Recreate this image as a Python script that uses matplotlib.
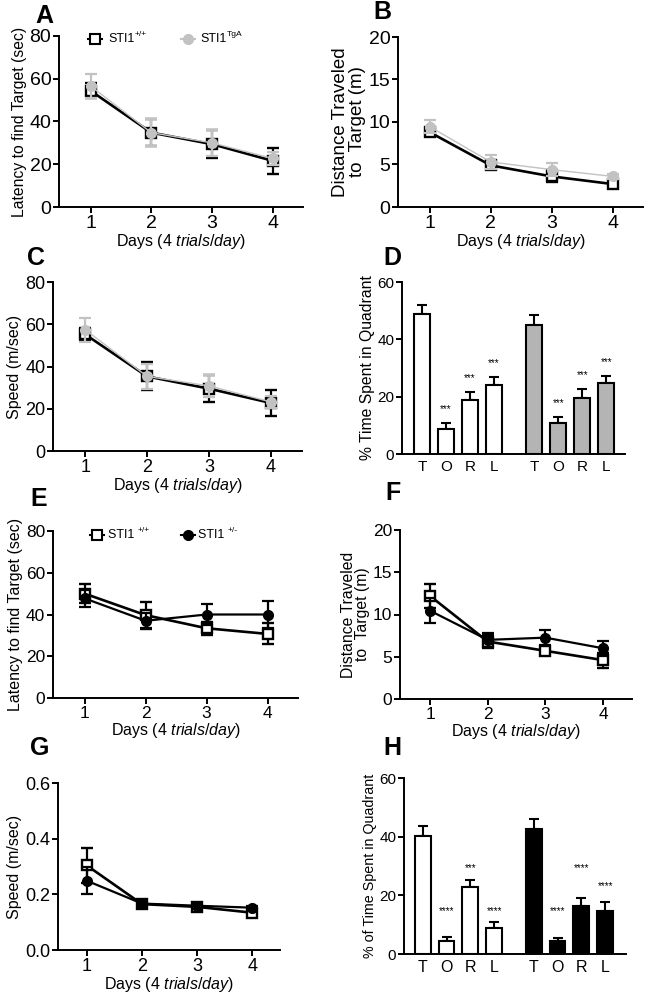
import matplotlib
matplotlib.use('Agg')
import matplotlib.pyplot as plt
from matplotlib.lines import Line2D

plt.rcParams['font.family'] = ['Liberation Sans', 'DejaVu Sans']
plt.rcParams['mathtext.fontset'] = 'custom'
plt.rcParams['mathtext.rm'] = 'Liberation Sans'
plt.rcParams['mathtext.it'] = 'Liberation Sans:italic'
plt.rcParams['mathtext.bf'] = 'Liberation Sans:bold'

# ---------------- data ----------------
days = [1, 2, 3, 4]
quadrants = ["T", "O", "R", "L"]

# A: latency (sec)  STI1+/+ vs STI1TgA
a_wt_mean = [54.4, 34.8, 29.4, 21.6]
a_wt_sem = [3.4, 6.2, 6.4, 6.0]
a_tg_mean = [56.6, 34.8, 30.0, 22.7]
a_tg_sem = [5.4, 6.2, 6.0, 3.1]

# B: distance (m)
b_wt_mean = [8.8, 4.9, 3.6, 2.7]
b_wt_sem = [0.5, 0.45, 0.7, 0.3]
b_tg_mean = [9.45, 5.3, 4.4, 3.6]
b_tg_sem = [0.75, 0.8, 0.8, 0.25]

# C: speed
c_wt_mean = [55.2, 35.3, 29.5, 22.7]
c_wt_sem = [3.2, 6.6, 6.3, 6.0]
c_tg_mean = [57.4, 35.3, 30.8, 23.2]
c_tg_sem = [5.6, 6.0, 5.3, 3.0]

# D: % time in quadrant
d_wt_mean = [48.8, 8.8, 18.7, 24.0]
d_wt_sem = [3.3, 2.0, 2.9, 2.7]
d_tg_mean = [45.1, 10.9, 19.5, 24.8]
d_tg_sem = [3.5, 2.0, 3.2, 2.3]
d_wt_stars = ["", "***", "***", "***"]
d_tg_stars = ["", "***", "***", "***"]

# E: latency  STI1+/+ vs STI1+/-
e_wt_mean = [50.0, 39.7, 33.4, 30.7]
e_wt_sem = [4.5, 6.5, 3.2, 5.0]
e_het_mean = [47.7, 37.0, 40.0, 40.0]
e_het_sem = [4.0, 3.6, 4.8, 6.4]

# F: distance
f_wt_mean = [12.2, 6.8, 5.7, 4.6]
f_wt_sem = [1.4, 0.8, 0.5, 0.9]
f_het_mean = [10.45, 7.0, 7.26, 6.0]
f_het_sem = [1.5, 0.85, 0.9, 0.86]

# G: speed (m/sec)
g_wt_mean = [0.304, 0.165, 0.155, 0.134]
g_wt_sem = [0.064, 0.010, 0.008, 0.010]
g_het_mean = [0.249, 0.167, 0.159, 0.152]
g_het_sem = [0.048, 0.008, 0.006, 0.006]

# H: % of time in quadrant
h_wt_mean = [40.3, 4.4, 22.8, 8.8]
h_wt_sem = [3.2, 1.5, 2.3, 2.0]
h_het_mean = [42.7, 4.4, 16.4, 14.8]
h_het_sem = [3.4, 1.2, 2.6, 2.9]
h_wt_stars = ["", "****", "***", "****"]
h_het_stars = ["", "****", "****", "****"]

# ---------------- figure ----------------
W, H = 648, 996
fig = plt.figure(figsize=(W / 100, H / 100), dpi=100)
GRAY = '#c2c2c2'
BARGRAY = '#b4b4b4'


def px_axes(l, t, r, b):
    return fig.add_axes([l / W, 1 - b / H, (r - l) / W, (b - t) / H])


def style(ax, ylim, yticks, ylabel, tick_fs, label_fs, yfmt=None):
    for s in ['top', 'right']:
        ax.spines[s].set_visible(False)
    for s in ['left', 'bottom']:
        ax.spines[s].set_linewidth(1.4)
    ax.set_ylim(*ylim)
    ax.set_yticks(yticks)
    if yfmt:
        ax.set_yticklabels([yfmt.format(v) for v in yticks])
    ax.tick_params(axis='both', length=4, width=1.4, labelsize=tick_fs, pad=1.5)
    ax.set_ylabel(ylabel, fontsize=label_fs, labelpad=2)


def line_panel(ax, wt_m, wt_s, mu_m, mu_s, mu_color, mu_lw, xlab_fs):
    ax.errorbar(days, wt_m, yerr=wt_s, color='black', lw=1.9, marker='s', ms=7.5,
                mfc='white', mec='black', mew=1.7, capsize=4.5, capthick=1.6,
                elinewidth=1.6, zorder=3, clip_on=False)
    ax.errorbar(days, mu_m, yerr=mu_s, color=mu_color, lw=mu_lw, marker='o', ms=7,
                mfc=mu_color, mec=mu_color, capsize=4.5, capthick=1.6,
                elinewidth=1.6, zorder=4, clip_on=False)
    ax.set_xlim(0.48, 4.5)
    ax.set_xticks(days)
    ax.set_xlabel(r'Days (4 $\mathit{trials/day}$)', fontsize=xlab_fs, labelpad=0.5)


def bar_panel(ax, m1, s1, m2, s2, c2):
    x1 = [0, 1, 2, 3]
    x2 = [4.67, 5.67, 6.67, 7.67]
    ax.bar(x1, m1, width=0.66, color='white', edgecolor='black', linewidth=1.5, zorder=2)
    ax.bar(x2, m2, width=0.66, color=c2, edgecolor='black', linewidth=1.5, zorder=2)
    ax.errorbar(x1, m1, yerr=[[0] * 4, s1], fmt='none', ecolor='black', elinewidth=1.5,
                capsize=3.5, capthick=1.5, zorder=1)
    ax.errorbar(x2, m2, yerr=[[0] * 4, s2], fmt='none', ecolor='black', elinewidth=1.5,
                capsize=3.5, capthick=1.5, zorder=1)
    return x1, x2


# ---- A ----
axA = px_axes(59, 36, 303, 207)
line_panel(axA, a_wt_mean, a_wt_sem, a_tg_mean, a_tg_sem, GRAY, 1.0, 11.5)
style(axA, (0, 80), [0, 20, 40, 60, 80], 'Latency to find Target (sec)', 14, 11.3)

# ---- B ----
axB = px_axes(398, 37, 643, 207)
line_panel(axB, b_wt_mean, b_wt_sem, b_tg_mean, b_tg_sem, GRAY, 1.0, 11.5)
style(axB, (0, 20), [0, 5, 10, 15, 20], 'Distance Traveled\nto  Target (m)', 14, 13.5)
axB.yaxis.label.set_linespacing(0.95)

# ---- C ----
axC = px_axes(53, 282, 302, 451)
line_panel(axC, c_wt_mean, c_wt_sem, c_tg_mean, c_tg_sem, GRAY, 1.0, 11.5)
style(axC, (0, 80), [0, 20, 40, 60, 80], 'Speed (m/sec)', 13, 11.5)

# ---- D ----
axD = px_axes(402, 282, 625, 454)
x1, x2 = bar_panel(axD, d_wt_mean, d_wt_sem, d_tg_mean, d_tg_sem, BARGRAY)
style(axD, (0, 60), [0, 20, 40, 60], '% Time Spent in Quadrant', 11, 11.3)
axD.set_xlim(-0.83, 8.45)
axD.set_xticks(x1 + x2)
axD.set_xticklabels(quadrants * 2)
axD.tick_params(axis='x', length=0, pad=4, labelsize=11)
for xs, ms, ss, st in [(x1, d_wt_mean, d_wt_sem, d_wt_stars), (x2, d_tg_mean, d_tg_sem, d_tg_stars)]:
    for x, m, s, t in zip(xs, ms, ss, st):
        if t:
            axD.text(x, m + s + 5.0, t, ha='center', va='center', fontsize=7)

# ---- E ----
axE = px_axes(53, 531, 298, 698)
line_panel(axE, e_wt_mean, e_wt_sem, e_het_mean, e_het_sem, 'black', 1.6, 11.5)
style(axE, (0, 80), [0, 20, 40, 60, 80], 'Latency to find Target (sec)', 12.5, 11.5)

# ---- F ----
axF = px_axes(400, 530, 632, 699)
line_panel(axF, f_wt_mean, f_wt_sem, f_het_mean, f_het_sem, 'black', 1.6, 11.5)
style(axF, (0, 20), [0, 5, 10, 15, 20], 'Distance Traveled\nto  Target (m)', 12.5, 11.3)
axF.yaxis.label.set_linespacing(0.95)

# ---- G ----
axG = px_axes(58, 783, 280, 950)
line_panel(axG, g_wt_mean, g_wt_sem, g_het_mean, g_het_sem, 'black', 1.6, 11.5)
style(axG, (0, 0.6), [0.0, 0.2, 0.4, 0.6], 'Speed (m/sec)', 13, 11.5, yfmt='{:.1f}')

# ---- H ----
axH = px_axes(404, 778, 626, 954)
hx1, hx2 = bar_panel(axH, h_wt_mean, h_wt_sem, h_het_mean, h_het_sem, 'black')
style(axH, (0, 60), [0, 20, 40, 60], '% of Time Spent in Quadrant', 11, 10.3)
axH.set_xlim(-0.79, 8.55)
axH.set_xticks(hx1 + hx2)
axH.set_xticklabels(quadrants * 2)
axH.tick_params(axis='x', length=0, pad=4, labelsize=11.5)
h_star_levels = [[0, 14.5, 29.3, 14.5], [0, 14.5, 29.3, 23.2]]
for xs, st, lv in [(hx1, h_wt_stars, h_star_levels[0]), (hx2, h_het_stars, h_star_levels[1])]:
    for x, t, y in zip(xs, st, lv):
        if t:
            axH.text(x, y, t, ha='center', va='center', fontsize=7)

# ---- panel letters ----
for lab, x, y in [('A', 35, 23), ('B', 373, 19), ('C', 27, 265), ('D', 383, 265),
                  ('E', 30, 506), ('F', 385, 500), ('G', 30, 755), ('H', 383, 755)]:
    fig.text(x / W, 1 - y / H, lab, fontsize=18, fontweight='bold', ha='left', va='baseline')


# ---- legends ----
def legend_item(ax, x, y, marker, color, mfc, ms, text, sup, tx, fs):
    fx, fy = x / W, 1 - y / H
    fig.add_artist(Line2D([(x - 7) / W, (x + 7) / W], [fy, fy], color=color, lw=1.5,
                          transform=fig.transFigure))
    fig.add_artist(Line2D([fx], [fy], marker=marker, ms=ms, mfc=mfc, mec=color, mew=1.5,
                          color=color, transform=fig.transFigure))
    base = fig.text(tx / W, fy, text, fontsize=fs, va='center', ha='left')
    ax.annotate(sup, xy=(1.0, 0.85), xycoords=base, fontsize=fs * 0.68,
                va='center', ha='left', annotation_clip=False)


legend_item(axA, 95, 39, 's', 'black', 'white', 6.5, 'STI1', '+/+', 108, 9)
legend_item(axA, 188, 39, 'o', GRAY, GRAY, 6.5, 'STI1', 'TgA', 200, 9)
legend_item(axE, 97, 535, 's', 'black', 'white', 6.5, 'STI1 ', '+/+', 108, 9)
legend_item(axE, 188, 535, 'o', 'black', 'black', 6.5, 'STI1 ', '+/-', 198, 9)

fig.savefig('out.png', dpi=100)
